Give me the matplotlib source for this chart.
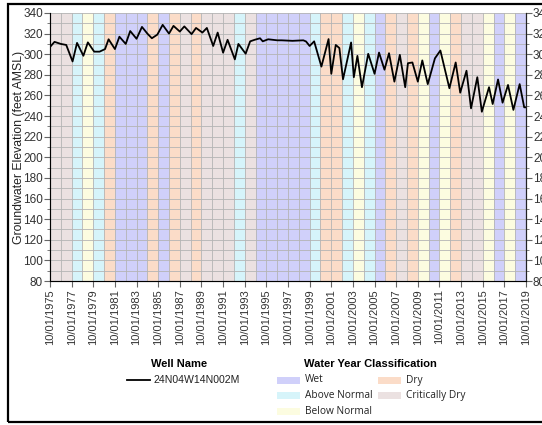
import datetime as dt

import matplotlib.dates as mdates
import matplotlib.pyplot as plt
import numpy as np
from matplotlib.lines import Line2D
from matplotlib.patches import Rectangle
from matplotlib.ticker import FixedLocator, MultipleLocator

plt.rcParams['font.family'] = ['Liberation Sans', 'DejaVu Sans']
NARROW = ['Liberation Sans Narrow', 'Liberation Sans', 'DejaVu Sans']
OPEN = ['Open Sans', 'DejaVu Sans']

# well hydrograph (date of measurement, feet AMSL)
well_name = '24N04W14N002M'
dates = ['1975-10', '1976-03', '1976-10', '1977-04', '1977-11', '1978-04', '1978-11',
         '1979-04', '1979-11', '1980-05', '1980-11', '1981-03', '1981-10', '1982-03',
         '1982-10', '1983-03', '1983-10', '1984-04', '1984-10', '1985-03', '1985-09',
         '1986-03', '1986-10', '1987-03', '1987-10', '1988-03', '1988-11', '1989-04',
         '1989-11', '1990-04', '1990-11', '1991-04', '1991-10', '1992-03', '1992-11',
         '1993-03', '1993-11', '1994-04', '1994-09', '1995-03', '1995-06', '1995-12',
         '1996-10', '1997-03', '1998-03', '1999-03', '1999-06', '1999-10', '2000-03',
         '2000-11', '2001-07', '2001-10', '2002-03', '2002-07', '2002-11', '2003-08',
         '2003-11', '2004-03', '2004-08', '2005-03', '2005-10', '2006-03', '2006-09',
         '2007-02', '2007-08', '2008-02', '2008-08', '2008-11', '2009-04', '2009-10',
         '2010-03', '2010-09', '2011-05', '2011-11', '2012-09', '2013-04', '2013-09',
         '2014-04', '2014-09', '2015-04', '2015-09', '2016-05', '2016-09', '2017-03',
         '2017-08', '2018-02', '2018-08', '2019-03', '2019-08', '2019-10']
elev = [307, 312, 310, 309, 293, 311, 298.5,
        311.5, 302.5, 302.5, 305, 314.5, 305, 317,
        310, 322.5, 315, 326.5, 320, 315.5, 319,
        328.5, 320, 327.5, 322, 327, 319.5, 325.5,
        321, 325.5, 308, 321, 301.5, 314, 295,
        310, 300.5, 312.5, 314, 315.5, 312.5, 314.5,
        313.5, 313.5, 313, 313.5, 312.4, 308, 312.5,
        288, 314.7, 281, 309, 306, 275.7, 311.4,
        277.7, 298.4, 268, 300.4, 281, 301.6, 285,
        301, 273.4, 299.4, 268, 291.3, 292, 273.4,
        294, 271, 296, 303.6, 267, 292, 262.7,
        284, 247.5, 277.7, 244.2, 268, 251.7, 275.5,
        253, 270.2, 246, 271, 248.5, 248.5]

# water year classification (water year ends 09/30 of that year)
water_years = list(range(1976, 2020))
wy_class = ['C', 'C', 'AN', 'BN', 'AN', 'D', 'W', 'W', 'W', 'D', 'W', 'D', 'C', 'D',
            'C', 'C', 'C', 'AN', 'C', 'W', 'W', 'W', 'W', 'W', 'AN', 'D', 'D', 'AN',
            'BN', 'AN', 'W', 'D', 'C', 'D', 'BN', 'W', 'BN', 'D', 'C', 'C', 'BN', 'W',
            'BN', 'W']
class_names = {'W': 'Wet', 'AN': 'Above Normal', 'BN': 'Below Normal',
               'D': 'Dry', 'C': 'Critically Dry'}
class_colors = {'W': '#d0d0fa', 'AN': '#d6f4fa', 'BN': '#fcfce0',
                'D': '#fbdcc8', 'C': '#ebe1e1'}

x = [dt.datetime.strptime(d, '%Y-%m') for d in dates]

W, H = 542, 425
fig = plt.figure(figsize=(W / 100, H / 100), dpi=100)
ax = fig.add_axes([50 / W, 1 - 281 / H, 476 / W, 268 / H])

for wy, c in zip(water_years, wy_class):
    ax.axvspan(dt.datetime(wy - 1, 10, 1), dt.datetime(wy, 10, 1),
               color=class_colors[c], lw=0, zorder=0)

ax.plot(x, elev, color='black', lw=1.3, zorder=3)

ax.set_xlim(dt.datetime(1975, 10, 1), dt.datetime(2019, 10, 1))
ax.set_ylim(80, 340)
ax.yaxis.set_major_locator(MultipleLocator(20))
ax.yaxis.set_minor_locator(MultipleLocator(10))
major_days = [mdates.date2num(dt.datetime(y, 10, 1)) for y in range(1975, 2020, 2)]
minor_days = [mdates.date2num(dt.datetime(y, 10, 1)) for y in range(1975, 2020)]
ax.xaxis.set_major_locator(FixedLocator(major_days))
ax.xaxis.set_minor_locator(FixedLocator(minor_days))
ax.xaxis.set_major_formatter(mdates.DateFormatter('%m/%d/%Y'))
ax.grid(which='both', color='#b4b4b4', lw=0.6, zorder=1)
ax.set_axisbelow(True)

ax.tick_params(axis='x', which='major', labelrotation=90, labelsize=8,
               labelcolor='#333333', length=4, color='#666666', pad=2)
ax.tick_params(axis='x', which='minor', length=0)
ax.tick_params(axis='y', which='major', labelsize=8.5, labelcolor='#333333',
               length=4, color='#666666', pad=1)
ax.tick_params(axis='y', which='minor', length=2.5, color='#666666')
ax.set_ylabel('Groundwater Elevation (feet AMSL)', fontsize=8.8, color='#222222')
ax.yaxis.set_label_coords(-0.053, 0.5)
ax.spines['top'].set_visible(False)
ax.spines['left'].set_color('#666666')
ax.spines['bottom'].set_color('#666666')

ax2 = ax.twinx()
ax2.set_ylim(80, 340)
ax2.yaxis.set_major_locator(MultipleLocator(20))
ax2.yaxis.set_minor_locator(MultipleLocator(10))
ax2.tick_params(axis='y', which='major', labelsize=8.5, labelcolor='#333333',
                length=4, color='#666666', pad=1)
ax2.tick_params(axis='y', which='minor', length=2.5, color='#666666')
ax2.spines['top'].set_visible(False)
ax2.spines['right'].set_color('#222222')


def fx(px):
    return px / W


def fy(py):
    return 1 - py / H


# legend: well
fig.text(fx(179), fy(364), 'Well Name', ha='center', va='center', fontsize=8,
         fontweight='bold', family=NARROW)
fig.add_artist(Line2D([fx(127), fx(150)], [fy(380), fy(380)], color='black', lw=1.3))
fig.text(fx(154), fy(380), well_name, ha='left', va='center', fontsize=7.6,
         family=NARROW, color='#222222')

# legend: water year classification
fig.text(fx(370), fy(364), 'Water Year Classification', ha='center', va='center',
         fontsize=8, fontweight='bold', family=NARROW)
cls_order = ['W', 'AN', 'BN', 'D', 'C']
cls_pos = [(277, 380), (277, 395.5), (277, 411), (378, 380), (378, 395.5)]
for c, (px, py) in zip(cls_order, cls_pos):
    fig.patches.append(Rectangle((fx(px), fy(py + 3.5)), 23 / W, 7 / H,
                                 transform=fig.transFigure, facecolor=class_colors[c],
                                 edgecolor='none'))
    fig.text(fx(px + 28), fy(py), class_names[c], ha='left', va='center',
             fontsize=7.3, family=OPEN, color='#222222')

# outer frame
fig.patches.append(Rectangle((8 / W, 3 / H), 1.0, 1 - 7 / H,
                             transform=fig.transFigure, fill=False,
                             edgecolor='black', lw=1.6))

fig.savefig('out.png', dpi=100)
